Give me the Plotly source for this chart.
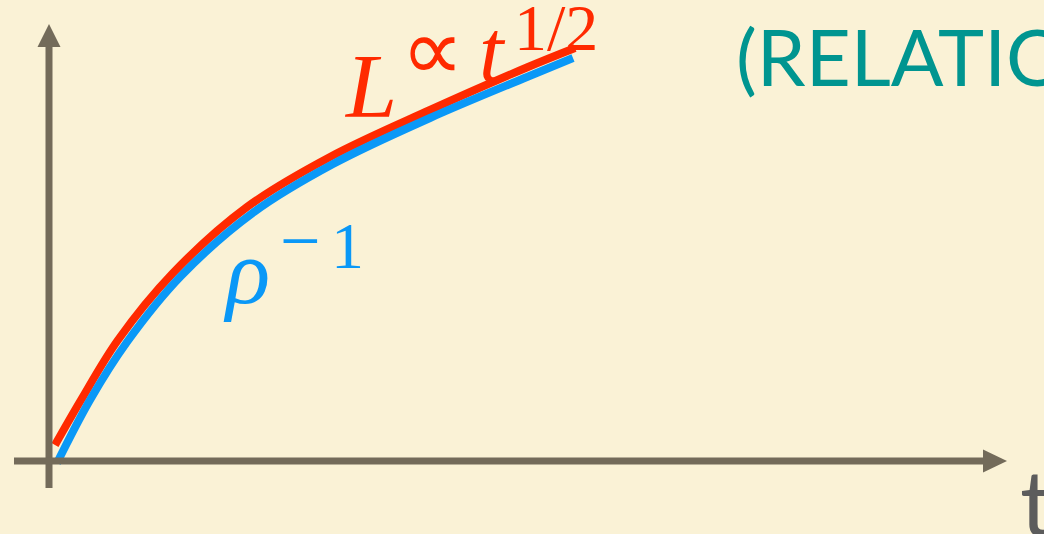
import plotly.graph_objects as go

# Sketch of domain size growth: L and rho^-1 both rising like t^(1/2)
# Units: 1 unit = 100 px, origin at the axes crossing
t_L = [0.06, 0.32, 0.69, 1.24, 1.98, 2.81, 3.81, 4.79, 5.26]
L_vals = [0.16, 0.61, 1.21, 1.88, 2.54, 3.04, 3.51, 3.94, 4.13]

t_rho = [0.08, 0.41, 0.78, 1.32, 2.05, 2.84, 3.81, 4.78, 5.24]
rho_inv = [-0.02, 0.61, 1.19, 1.85, 2.49, 2.97, 3.43, 3.84, 4.03]

BG = "#FAF2D6"
AXIS = "#736B5A"
RED = "#FF2A00"
BLUE = "#0A98F7"
TEAL = "#009590"

W, H = 1044, 534
X0, Y0 = 49, 461          # pixel position of the origin
S = 100.0                 # pixels per unit

fig = go.Figure()
fig.add_trace(go.Scatter(x=t_L, y=L_vals, mode="lines",
                         line=dict(color=RED, width=8, shape="spline", smoothing=1.0),
                         hoverinfo="skip"))
fig.add_trace(go.Scatter(x=t_rho, y=rho_inv, mode="lines",
                         line=dict(color=BLUE, width=8, shape="spline", smoothing=1.0),
                         hoverinfo="skip"))

# hand-drawn style axes with arrowheads
shapes = [
    dict(type="line", xref="x", yref="y", x0=0, x1=0, y0=-0.27, y1=4.16,
         line=dict(color=AXIS, width=7)),
    dict(type="path", xref="x", yref="y",
         path="M -0.115 4.14 L 0.115 4.14 L 0 4.37 Z",
         fillcolor=AXIS, line=dict(width=0)),
    dict(type="line", xref="x", yref="y", x0=-0.35, x1=9.36, y0=0, y1=0,
         line=dict(color=AXIS, width=7)),
    dict(type="path", xref="x", yref="y",
         path="M 9.34 0.115 L 9.34 -0.115 L 9.58 0 Z",
         fillcolor=AXIS, line=dict(width=0)),
]


def px(xp, yp):
    return xp / W, 1 - yp / H


annotations = []


def label(text, xp, yp, size, color, family, xanchor="center", yanchor="middle"):
    xx, yy = px(xp, yp)
    annotations.append(dict(text=text, x=xx, y=yy, xref="paper", yref="paper",
                            xanchor=xanchor, yanchor=yanchor, showarrow=False,
                            font=dict(size=size, color=color, family=family)))


SERIF = "Liberation Serif"
label("<i>L</i>", 370, 86, 92, RED, SERIF)
label("∝", 432, 49, 88, RED, "DejaVu Sans")
label("<i>t</i>", 492, 51, 88, RED, SERIF)
label("1/2", 556, 27, 66, RED, SERIF)

label("<i>ρ</i>", 246, 272, 92, BLUE, SERIF)
label("−", 300, 241, 72, BLUE, SERIF)
label("1", 347, 245, 66, BLUE, SERIF)

label("(RELATION", 734, 56, 78, TEAL, "Lato", xanchor="left")
label("t", 1018, 500, 92, "#5C5C5C", "Lato", xanchor="left")

fig.update_layout(
    width=W, height=H,
    margin=dict(l=0, r=0, t=0, b=0),
    paper_bgcolor=BG, plot_bgcolor=BG,
    showlegend=False,
    shapes=shapes,
    annotations=annotations,
    xaxis=dict(range=[-X0 / S, (W - X0) / S], visible=False, fixedrange=True),
    yaxis=dict(range=[-(H - Y0) / S, Y0 / S], visible=False, fixedrange=True),
)

fig.write_html("out.html", config=dict(displayModeBar=False))
